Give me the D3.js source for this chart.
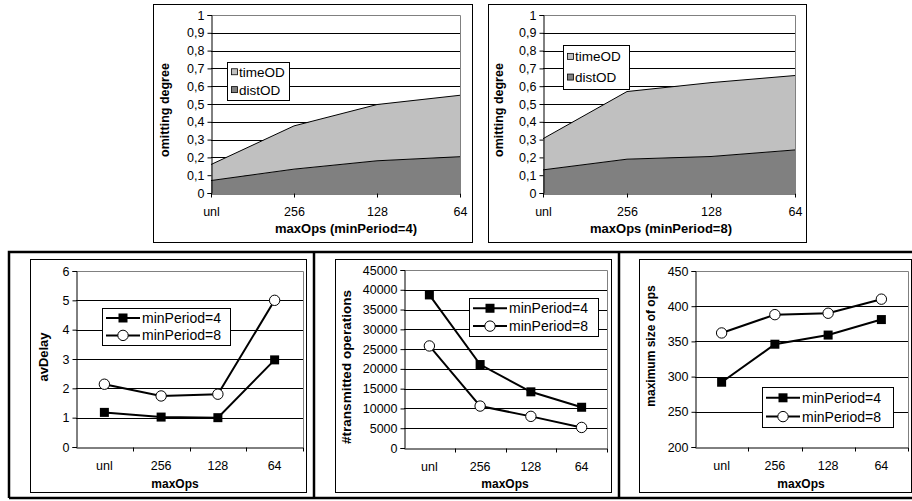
<!DOCTYPE html>
<html>
<head>
<meta charset="utf-8">
<script src="https://cdn.jsdelivr.net/npm/d3@7"></script>
<style>
  body { margin: 0; background: #fff; }
  svg { display: block; }
  svg text { font-family: "Liberation Sans", Arial, sans-serif; fill: #000; }
</style>
</head>
<body>
<div id="content"></div>
<script>
// ---- data ----
var topCats = ["unl", "256", "128", "64"];
var distOD4 = [0.07, 0.134, 0.181, 0.204];
var timeOD4 = [0.09, 0.243, 0.316, 0.345];
var distOD8 = [0.13, 0.19, 0.205, 0.242];
var timeOD8 = [0.175, 0.38, 0.415, 0.418];
var omitTicks = [0, 0.1, 0.2, 0.3, 0.4, 0.5, 0.6, 0.7, 0.8, 0.9, 1];

var opsCats = ["unl", "256", "128", "64"];
var delay4 = [1.18, 1.02, 1.0, 2.97];
var delay8 = [2.14, 1.74, 1.8, 5.0];
var delayTicks = [0, 1, 2, 3, 4, 5, 6];
var trans4 = [38700, 21100, 14200, 10300];
var trans8 = [25800, 10600, 8000, 5200];
var transTicks = [0, 5000, 10000, 15000, 20000, 25000, 30000, 35000, 40000, 45000];
var size4 = [292, 346, 359, 381];
var size8 = [362, 388, 390, 410];
var sizeTicks = [200, 250, 300, 350, 400, 450];
var seriesNames = ["minPeriod=4", "minPeriod=8"];

var svg = d3.select('#content').append('svg')
    .attr('width', 912).attr('height', 501);

function commaFmt(d) {
    return (d === 0 || d === 1) ? String(d) : d.toFixed(1).replace('.', ',');
}

// ---------- stacked area panels (top row) ----------
function areaPanel(c) {
    var g = svg.append('g');
    g.append('rect').attr('x', c.box[0] + 0.5).attr('y', c.box[1] + 0.5)
        .attr('width', c.box[2] - c.box[0]).attr('height', c.box[3] - c.box[1])
        .attr('fill', '#fff').attr('stroke', '#000');

    var x = d3.scalePoint().domain(topCats).range([c.plot[0], c.plot[2]]).padding(0);
    var y = d3.scaleLinear().domain([0, 1]).range([c.plot[3], c.plot[1]]);

    // gridlines
    g.append('g').selectAll('line').data(omitTicks.slice(1, -1)).enter().append('line')
        .attr('x1', c.plot[0]).attr('x2', c.plot[2])
        .attr('y1', function(d) { return Math.round(y(d)) + 0.5; })
        .attr('y2', function(d) { return Math.round(y(d)) + 0.5; })
        .attr('stroke', '#000');
    g.append('path')
        .attr('d', 'M' + c.plot[0] + ',' + (Math.round(y(1)) + 0.5) + 'H' + (c.plot[2] + 0.5) + 'V' + c.plot[3])
        .attr('fill', 'none').attr('stroke', '#808080');

    var rows = topCats.map(function(k, i) { return { cat: k, distOD: c.dist[i], timeOD: c.time[i] }; });
    var stack = d3.stack().keys(['distOD', 'timeOD'])(rows);
    var fills = { distOD: '#808080', timeOD: '#c0c0c0' };
    var area = d3.area().x(function(d) { return x(d.data.cat); })
        .y0(function(d) { return y(d[0]); }).y1(function(d) { return y(d[1]); });
    var top = d3.line().x(function(d) { return x(d.data.cat); }).y(function(d) { return y(d[1]); });
    g.selectAll('.ar').data(stack).enter().append('path')
        .attr('d', area).attr('fill', function(s) { return fills[s.key]; });
    g.selectAll('.tl').data(stack).enter().append('path')
        .attr('d', top).attr('fill', 'none').attr('stroke', '#000').attr('stroke-width', 1);

    var yAxis = d3.axisLeft(y).tickValues(omitTicks).tickFormat(commaFmt).tickSize(4).tickPadding(3);
    g.append('g').attr('transform', 'translate(' + (c.plot[0] + 0.5) + ',0)').call(yAxis)
        .call(function(a) { a.select('.domain').attr('stroke', '#000'); });
    var xAxis = d3.axisBottom(x).tickSize(4).tickPadding(10).tickSizeOuter(0);
    g.append('g').attr('transform', 'translate(0,' + (c.plot[3] + 0.5) + ')').call(xAxis);
    g.selectAll('.tick text').attr('font-size', 12.5);

    g.append('text').attr('x', c.xTitle[0]).attr('y', c.xTitle[1])
        .attr('text-anchor', 'middle').attr('font-weight', 'bold').attr('font-size', 13)
        .text(c.xLabel);
    g.append('text').attr('transform', 'translate(' + c.yTitle[0] + ',' + c.yTitle[1] + ') rotate(-90)')
        .attr('text-anchor', 'middle').attr('dominant-baseline', 'central')
        .attr('font-weight', 'bold').attr('font-size', 12.5).text('omitting degree');

    // legend
    var L = c.legend;
    g.append('rect').attr('x', L[0] + 0.5).attr('y', L[1] + 0.5).attr('width', L[2]).attr('height', L[3])
        .attr('fill', '#fff').attr('stroke', '#000');
    ['timeOD', 'distOD'].forEach(function(k, i) {
        var cy = L[1] + L[3] * (i === 0 ? 0.27 : 0.74);
        g.append('rect').attr('x', L[0] + 4.5).attr('y', cy - 3.5).attr('width', 6).attr('height', 6)
            .attr('fill', fills[k]).attr('stroke', '#000').attr('stroke-width', 0.8);
        g.append('text').attr('x', L[0] + 12).attr('y', cy).attr('dominant-baseline', 'central')
            .attr('font-size', 13.5).text(k);
    });
}

areaPanel({ box: [153, 4, 472, 242], plot: [211, 15, 460, 193], dist: distOD4, time: timeOD4,
    xLabel: 'maxOps (minPeriod=4)', xTitle: [346, 233], yTitle: [165, 110], legend: [227, 62, 62, 38] });
areaPanel({ box: [488, 4, 806, 242], plot: [543, 15, 795, 193], dist: distOD8, time: timeOD8,
    xLabel: 'maxOps (minPeriod=8)', xTitle: [661, 233], yTitle: [499, 110], legend: [563, 45, 66, 44] });

// ---------- line panels (bottom row) ----------
function linePanel(c) {
    var g = svg.append('g');
    g.append('rect').attr('x', c.box[0] + 0.5).attr('y', c.box[1] + 0.5)
        .attr('width', c.box[2] - c.box[0]).attr('height', c.box[3] - c.box[1])
        .attr('fill', '#fff').attr('stroke', '#000');

    var x = d3.scaleBand().domain(opsCats).range([c.plot[0], c.plot[2]]).padding(0);
    var y = d3.scaleLinear().domain([c.ticks[0], c.ticks[c.ticks.length - 1]]).range([c.plot[3], c.plot[1]]);

    g.append('g').selectAll('line').data(c.ticks.slice(1, -1)).enter().append('line')
        .attr('x1', c.plot[0]).attr('x2', c.plot[2])
        .attr('y1', function(d) { return Math.round(y(d)) + 0.5; })
        .attr('y2', function(d) { return Math.round(y(d)) + 0.5; })
        .attr('stroke', '#000');
    g.append('path')
        .attr('d', 'M' + c.plot[0] + ',' + (Math.round(y(c.ticks[c.ticks.length - 1])) + 0.5) + 'H' + (c.plot[2] + 0.5) + 'V' + c.plot[3])
        .attr('fill', 'none').attr('stroke', '#808080');

    var yAxis = d3.axisLeft(y).tickValues(c.ticks).tickFormat(d3.format('d')).tickSize(4).tickPadding(3);
    g.append('g').attr('transform', 'translate(' + (c.plot[0] + 0.5) + ',0)').call(yAxis);
    var xAxis = d3.axisBottom(x).tickSize(0).tickPadding(14).tickSizeOuter(0);
    var xa = g.append('g').attr('transform', 'translate(0,' + (c.plot[3] + 0.5) + ')').call(xAxis);
    // tick marks sit between the categories
    xa.selectAll('.edge').data(opsCats).enter().append('line')
        .attr('x1', function(d) { return Math.round(x(d) + x.bandwidth()) + 0.5; })
        .attr('x2', function(d) { return Math.round(x(d) + x.bandwidth()) + 0.5; })
        .attr('y1', 0).attr('y2', 4).attr('stroke', '#000');
    g.selectAll('.tick text').attr('font-size', 12.5);

    g.append('text').attr('x', c.xTitle[0]).attr('y', c.xTitle[1])
        .attr('text-anchor', 'middle').attr('font-weight', 'bold').attr('font-size', 12)
        .text('maxOps');
    g.append('text').attr('transform', 'translate(' + c.yTitle[0] + ',' + c.yTitle[1] + ') rotate(-90)')
        .attr('text-anchor', 'middle').attr('dominant-baseline', 'central')
        .attr('font-weight', 'bold').attr('font-size', c.yTitle[2]).text(c.yLabel);

    var cx = function(d, i) { return x(opsCats[i]) + x.bandwidth() / 2; };
    var line = d3.line().x(cx).y(function(d) { return y(d); });
    [c.s4, c.s8].forEach(function(vals, k) {
        g.append('path').datum(vals).attr('d', line)
            .attr('fill', 'none').attr('stroke', '#000').attr('stroke-width', 2);
        drawMarkers(g, vals.map(function(v, i) { return [cx(v, i), y(v)]; }), k);
    });

    var L = c.legend;
    g.append('rect').attr('x', L[0] + 0.5).attr('y', L[1] + 0.5).attr('width', L[2]).attr('height', L[3])
        .attr('fill', '#fff').attr('stroke', '#000');
    seriesNames.forEach(function(name, k) {
        var ly = L[1] + L[3] * (k === 0 ? 0.27 : 0.74);
        g.append('line').attr('x1', L[0] + 4).attr('x2', L[0] + 38).attr('y1', ly).attr('y2', ly)
            .attr('stroke', '#000').attr('stroke-width', 2);
        drawMarkers(g, [[L[0] + 21, ly]], k);
        g.append('text').attr('x', L[0] + 40).attr('y', ly).attr('dominant-baseline', 'central')
            .attr('font-size', 14).text(name);
    });
}

function drawMarkers(g, pts, k) {
    if (k === 0) {
        g.selectAll(null).data(pts).enter().append('rect')
            .attr('x', function(p) { return p[0] - 4.5; }).attr('y', function(p) { return p[1] - 4.5; })
            .attr('width', 9).attr('height', 9).attr('fill', '#000');
    } else {
        g.selectAll(null).data(pts).enter().append('circle')
            .attr('cx', function(p) { return p[0]; }).attr('cy', function(p) { return p[1]; })
            .attr('r', 5.2).attr('fill', '#fff').attr('stroke', '#000').attr('stroke-width', 1);
    }
}

linePanel({ box: [30, 259, 306, 492], plot: [76, 271, 303, 447], ticks: delayTicks, s4: delay4, s8: delay8,
    yLabel: 'avDelay', xTitle: [175, 488], yTitle: [43, 357, 13], legend: [102, 308, 128, 37] });
linePanel({ box: [335, 259, 611, 492], plot: [404, 270, 607, 448], ticks: transTicks, s4: trans4, s8: trans8,
    yLabel: '#transmitted operations', xTitle: [505, 488], yTitle: [346, 367, 13.5], legend: [469, 298, 129, 38] });
linePanel({ box: [639, 259, 911, 492], plot: [695, 271, 908, 447], ticks: sizeTicks, s4: size4, s8: size8,
    yLabel: 'maximum size of ops', xTitle: [801, 488], yTitle: [651, 346, 12], legend: [762, 387, 131, 40] });

// thick frame around the bottom row
var frame = svg.append('g').attr('stroke', '#000').attr('stroke-width', 2.5).attr('fill', 'none');
frame.append('path').attr('d', 'M9,498V252H912');
frame.append('path').attr('d', 'M9,498H912');
[314, 619].forEach(function(xx) {
    frame.append('line').attr('x1', xx).attr('x2', xx).attr('y1', 252).attr('y2', 498);
});
</script>
</body>
</html>
